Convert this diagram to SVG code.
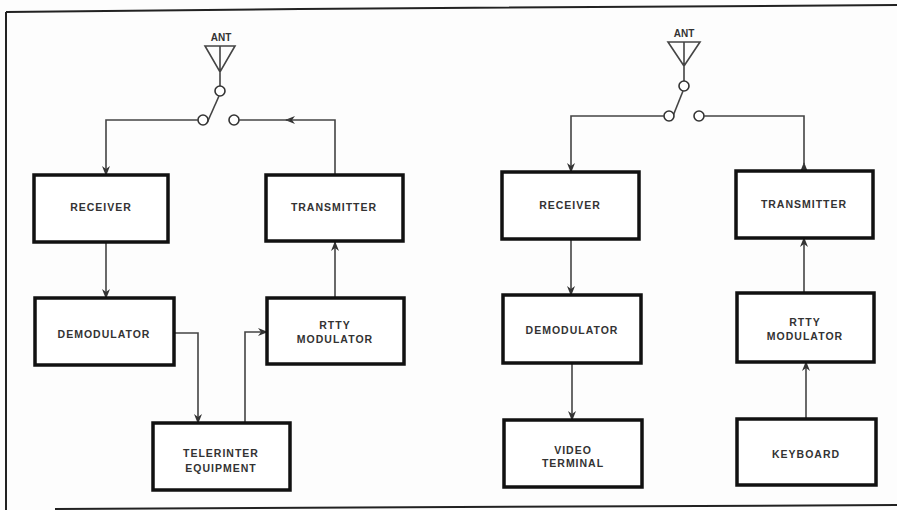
<svg xmlns="http://www.w3.org/2000/svg" width="897" height="510" viewBox="0 0 897 510">
<style>
.box{fill:#fff;stroke:#111;stroke-width:3.5}
.lbl{font-family:"Liberation Sans",Arial,sans-serif;font-weight:bold;font-size:10.5px;letter-spacing:1px;fill:#333;text-anchor:middle}
.ant{font-family:"Liberation Sans",Arial,sans-serif;font-weight:bold;font-size:10px;fill:#333;text-anchor:middle}
.wire{fill:none;stroke:#444;stroke-width:1.6}
.frame{fill:none;stroke:#222;stroke-width:2}
.sw{fill:#fff;stroke:#333;stroke-width:1.6}
</style>
<defs>
<marker id="arr" markerWidth="10" markerHeight="8" refX="9" refY="4" orient="auto" markerUnits="userSpaceOnUse">
<path d="M0,0 L10,4 L0,8 L3,4 Z" fill="#333"/>
</marker>
</defs>
<rect width="897" height="510" fill="#fdfdfd"/>
<g id="frame">
<path class="frame" d="M6,12 L300,9 L897,5"/>
<path class="frame" d="M6,12 L6,510"/>
<path class="frame" d="M55,509 L897,505"/>
</g>
<g id="antenna-left">
<text class="ant" x="221" y="41">ANT</text>
<path class="wire" d="M205,46 L235,46 L220,72 Z M220,46 L220,72 L220,86"/>
<circle class="sw" cx="220" cy="91" r="5"/>
<path class="wire" d="M219,96 L207,123"/>
<circle class="sw" cx="203" cy="120" r="5"/>
<circle class="sw" cx="234" cy="120" r="5"/>
</g>
<g id="antenna-right">
<text class="ant" x="684" y="37">ANT</text>
<path class="wire" d="M668,42 L700,42 L684,66 Z M684,42 L684,66 L684,81"/>
<circle class="sw" cx="684" cy="86" r="5"/>
<path class="wire" d="M683,91 L671,121"/>
<circle class="sw" cx="669" cy="116" r="5"/>
<circle class="sw" cx="699" cy="116" r="5"/>
</g>
<g id="connectors">
<path class="wire" marker-end="url(#arr)" d="M198,120 L106,120 L106,175"/>
<path class="wire" marker-end="url(#arr)" d="M335,175 L335,120 L286,120"/>
<path class="wire" d="M290,120 L239,120"/>
<path class="wire" marker-end="url(#arr)" d="M106,242 L106,298"/>
<path class="wire" marker-end="url(#arr)" d="M335,298 L335,242"/>
<path class="wire" marker-end="url(#arr)" d="M174,333 L198,333 L198,423"/>
<path class="wire" marker-end="url(#arr)" d="M245,423 L245,332 L267,332"/>
<path class="wire" marker-end="url(#arr)" d="M664,116 L571,116 L571,172"/>
<path class="wire" marker-end="url(#arr)" d="M804,171 L804,163"/>
<path class="wire" d="M804,165 L804,116 L704,116"/>
<path class="wire" marker-end="url(#arr)" d="M571,239 L571,295"/>
<path class="wire" marker-end="url(#arr)" d="M572,363 L572,420"/>
<path class="wire" marker-end="url(#arr)" d="M804,293 L804,238"/>
<path class="wire" marker-end="url(#arr)" d="M806,419 L806,362"/>
</g>
<g id="receiver-left"><rect class="box" x="34" y="175" width="134" height="67"/><text class="lbl" x="101" y="211">RECEIVER</text></g>
<g id="transmitter-left"><rect class="box" x="266" y="175" width="137" height="66"/><text class="lbl" x="334" y="211">TRANSMITTER</text></g>
<g id="demodulator-left"><rect class="box" x="35" y="298" width="139" height="67"/><text class="lbl" x="104" y="338">DEMODULATOR</text></g>
<g id="rtty-left"><rect class="box" x="267" y="298" width="137" height="66"/><text class="lbl" x="335" y="329">RTTY</text><text class="lbl" x="335" y="343">MODULATOR</text></g>
<g id="telerinter"><rect class="box" x="153" y="423" width="137" height="67"/><text class="lbl" x="221" y="457">TELERINTER</text><text class="lbl" x="221" y="472">EQUIPMENT</text></g>
<g id="receiver-right"><rect class="box" x="502" y="172" width="137" height="67"/><text class="lbl" x="570" y="209">RECEIVER</text></g>
<g id="transmitter-right"><rect class="box" x="736" y="171" width="137" height="67"/><text class="lbl" x="804" y="208">TRANSMITTER</text></g>
<g id="demodulator-right"><rect class="box" x="503" y="295" width="138" height="68"/><text class="lbl" x="572" y="334">DEMODULATOR</text></g>
<g id="rtty-right"><rect class="box" x="737" y="293" width="137" height="69"/><text class="lbl" x="805" y="326">RTTY</text><text class="lbl" x="805" y="340">MODULATOR</text></g>
<g id="video-terminal"><rect class="box" x="504" y="420" width="138" height="67"/><text class="lbl" x="573" y="454">VIDEO</text><text class="lbl" x="573" y="467">TERMINAL</text></g>
<g id="keyboard"><rect class="box" x="737" y="419" width="139" height="66"/><text class="lbl" x="806" y="458">KEYBOARD</text></g>
</svg>
